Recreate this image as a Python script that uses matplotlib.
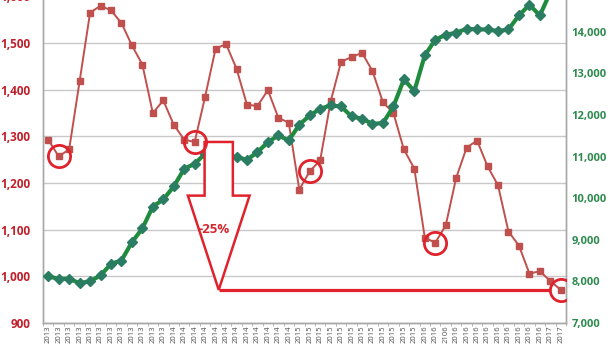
import numpy as np
import matplotlib
matplotlib.use("Agg")
import matplotlib.pyplot as plt
from matplotlib.patches import Polygon

plt.rcParams['font.family'] = ['Open Sans', 'DejaVu Sans']

# monthly category labels (one typo "2106" is in the source chart)
labels = ["2013"] * 12 + ["2014"] * 12 + ["2015"] * 12 + \
         ["2016", "2016", "2106"] + ["2016"] * 9 + ["2017"] * 2

# left axis series (red squares)
red_vals = [1293, 1257, 1272, 1418, 1565, 1580, 1570, 1543, 1495, 1454,
            1350, 1377, 1325, 1293, 1288, 1385, 1488, 1498, 1445, 1368,
            1365, 1399, 1340, 1329, 1186, 1225, 1249, 1375, 1460, 1470,
            1479, 1440, 1373, 1350, 1272, 1231, 1083, 1072, 1109, 1211,
            1276, 1291, 1236, 1195, 1096, 1066, 1006, 1011, 990, 971]

# right axis series (green diamonds)
green_vals = [8118, 8063, 8063, 7957, 8005, 8142, 8423, 8502, 8942, 9272,
              9800, 9969, 10281, 10707, 10827, 11068, 11080, 11020, 10986, 10923,
              11106, 11346, 11508, 11387, 11765, 11988, 12149, 12229, 12205, 11964,
              11909, 11789, 11803, 12205, 12854, 12573, 13431, 13808, 13928, 13976,
              14072, 14056, 14056, 14015, 14056, 14392, 14650, 14392, 14950, 15300]

# highlighted points
circled = [1, 14, 25, 37, 49]

left_ticks = [900, 1000, 1100, 1200, 1300, 1400, 1500, 1600]
right_ticks = [7000, 8000, 9000, 10000, 11000, 12000, 13000, 14000]

RED = '#C0504D'
HI = '#E0222C'
GREEN = '#1F8C3D'
GREEN_MK = '#2A7C62'

x = np.arange(len(labels))

fig = plt.figure(figsize=(6.16, 3.46), dpi=100)
ax = fig.add_axes([43 / 616, 1 - 323 / 346, 523 / 616, 326.6 / 346])
ax2 = ax.twinx()

ax.plot(x, red_vals, color=RED, lw=1.4, marker='s', ms=5, mfc=RED, mec=RED, zorder=3)
ax2.plot(x, green_vals, color=GREEN, lw=3, marker='D', ms=5.5,
         mfc=GREEN_MK, mec=GREEN_MK, zorder=3)

ax.set_xlim(-0.5, len(labels) - 0.5)
ax.set_ylim(900, 1600)
ax2.set_ylim(7000, 14850)

ax.set_yticks(left_ticks)
ax.set_yticklabels([f"{v:,}" for v in left_ticks])
ax2.set_yticks(right_ticks)
ax2.set_yticklabels([f"{v:,}" for v in right_ticks])

ax.set_xticks(x)
ax.set_xticklabels(labels, rotation=90, fontsize=5.5, color='#505050')
ax.set_xticks(np.arange(-0.5, len(labels), 1), minor=True)
ax.tick_params(axis='x', which='major', length=0, pad=2)
ax.tick_params(axis='x', which='minor', length=2.5, color='#AAAAAA')

for lab in ax.get_yticklabels():
    lab.set_fontweight('bold')
for lab in ax2.get_yticklabels():
    lab.set_fontweight('bold')
ax.tick_params(axis='y', length=0, pad=9, labelsize=8.5, labelcolor='#C0202B')
ax2.tick_params(axis='y', length=0, pad=4, labelsize=8, labelcolor='#2E8A4E')

ax.grid(axis='y', color='#C8C8C8', lw=1)
ax.set_axisbelow(True)
for a in (ax, ax2):
    a.spines['top'].set_visible(False)
    for s in ('left', 'right', 'bottom'):
        a.spines[s].set_color('#A8A8A8')
        a.spines[s].set_linewidth(1)

# annotations drawn on top of both series, in left-axis data coordinates
tr = ax.transData
cx = 16.3
top = red_vals[14]
tip = red_vals[-1]
base = 1173
arrow = Polygon([(cx - 1.35, top), (cx + 1.35, top), (cx + 1.35, base),
                 (cx + 2.95, base), (cx, tip), (cx - 2.95, base), (cx - 1.35, base)],
                closed=True, facecolor='white', edgecolor=HI, lw=1.8,
                transform=tr, zorder=5)
ax2.add_patch(arrow)
ax2.plot([cx, 48.0], [tip, tip], color=HI, lw=2.3, transform=tr, zorder=5,
         solid_capstyle='butt')
ax2.plot(circled, [red_vals[i] for i in circled], linestyle='none', marker='o',
         ms=16, mfc='none', mec=HI, mew=2, transform=tr, zorder=6)
ax2.text(15.85, 1100, "-25%", transform=tr, ha='center', va='center',
         fontsize=9.5, fontweight='bold', color='#D42830', zorder=7)

fig.savefig("out.png", dpi=100)
